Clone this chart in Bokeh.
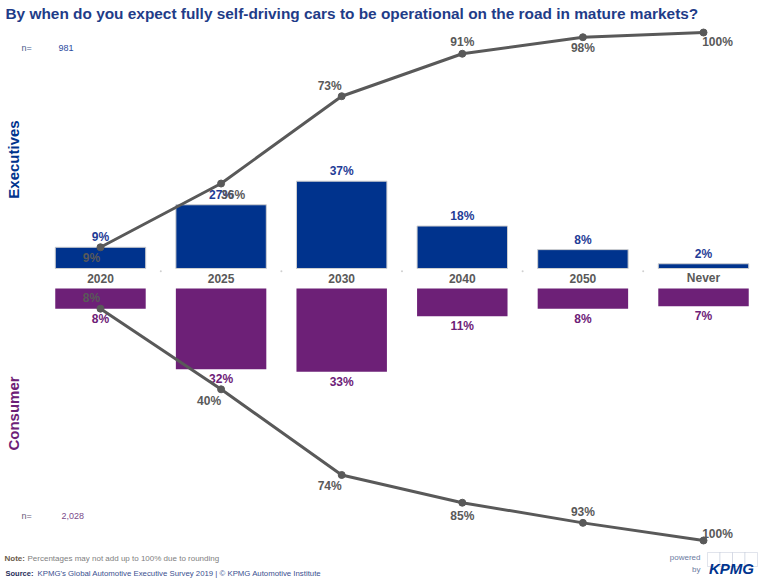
import math
from bokeh.plotting import figure
from bokeh.models import ColumnDataSource, Range1d, Label, BoxAnnotation
from bokeh.core.properties import value
from bokeh.embed import file_html
from bokeh.resources import INLINE

# ---- data ----
categories = ["2020", "2025", "2030", "2040", "2050", "Never"]
exec_share = [9, 27, 37, 18, 8, 2]
exec_cum = [9, 36, 73, 91, 98, 100]
cons_share = [8, 32, 33, 11, 8, 7]
cons_cum = [8, 40, 74, 85, 93, 100]
n_exec = "981"
n_cons = "2,028"

# label offsets for cumulative labels (screen px)
exec_cum_dx = [-9, 12, -12, 0, 0, 14]
exec_cum_dy = [11, 11, -10, -12, 11, 9]
cons_cum_dx = [-9, -12, -12, 0, 0, 14]
cons_cum_dy = [-11, 12, 11, 13, -11, -7]

FONT = "Liberation Sans"
BLUE = "#00338D"
PURPLE = "#6D2077"
GREY = "#595959"

W, H = 765, 586
xs = list(range(len(categories)))

p = figure(width=W, height=H, output_backend="svg", toolbar_location=None,
           x_axis_type=None, y_axis_type=None, min_border=0,
           x_range=Range1d(-0.829, 5.514), y_range=Range1d(-134.75, 113.56))
p.outline_line_color = None
p.background_fill_color = "white"
p.extra_y_ranges = {"cons": Range1d(118.25, -114.29)}

src = ColumnDataSource(dict(
    x=xs, cat=categories,
    e=exec_share, ec=exec_cum, c=cons_share, cc=cons_cum,
    e_lbl=[f"{v}%" for v in exec_share], c_lbl=[f"{v}%" for v in cons_share],
    ec_lbl=[f"{v}%" for v in exec_cum], cc_lbl=[f"{v}%" for v in cons_cum],
    ecdx=exec_cum_dx, ecdy=exec_cum_dy, ccdx=cons_cum_dx, ccdy=cons_cum_dy,
    zero=[0] * len(xs),
))

# bars
p.vbar(x="x", top="e", bottom=0, width=0.75, source=src,
       fill_color=BLUE, line_color="#d0d0d0", line_width=1)
p.vbar(x="x", top="c", bottom=0, width=0.75, source=src, y_range_name="cons",
       fill_color=PURPLE, line_color=None)

# small separators between categories
sep = ColumnDataSource(dict(x=[i + 0.5 for i in xs[:-1]]))
p.scatter(x="x", y=-1.2, source=sep, size=2, color="#d0d0d0", line_color=None)

# category labels
p.text(x="x", y="zero", text="cat", source=src, y_offset=10,
       text_align="center", text_baseline="middle", text_color=GREY,
       text_font=value(FONT), text_font_size="12px", text_font_style="bold")

# bar value labels
p.text(x="x", y="e", text="e_lbl", source=src, y_offset=-10,
       text_align="center", text_baseline="middle", text_color="#1F3C96",
       text_font=value(FONT), text_font_size="12px", text_font_style="bold")
p.text(x="x", y="c", text="c_lbl", source=src, y_offset=10, y_range_name="cons",
       text_align="center", text_baseline="middle", text_color=PURPLE,
       text_font=value(FONT), text_font_size="12px", text_font_style="bold")

# cumulative lines
p.line(x="x", y="ec", source=src, line_color=GREY, line_width=3)
p.scatter(x="x", y="ec", source=src, size=7, color=GREY)
p.line(x="x", y="cc", source=src, line_color=GREY, line_width=3, y_range_name="cons")
p.scatter(x="x", y="cc", source=src, size=7, color=GREY, y_range_name="cons")

p.text(x="x", y="ec", text="ec_lbl", source=src, x_offset="ecdx", y_offset="ecdy",
       text_align="center", text_baseline="middle", text_color=GREY,
       text_font=value(FONT), text_font_size="12px", text_font_style="bold")
p.text(x="x", y="cc", text="cc_lbl", source=src, x_offset="ccdx", y_offset="ccdy",
       y_range_name="cons",
       text_align="center", text_baseline="middle", text_color=GREY,
       text_font=value(FONT), text_font_size="12px", text_font_style="bold")


def sx(px):
    return px


def sy(py):
    return H - py


def lab(x, y, text, size, color, style="normal", align="left", angle=0.0, font=FONT):
    p.add_layout(Label(x=sx(x), y=sy(y), x_units="screen", y_units="screen",
                       text=text, text_font=font, text_font_size=size,
                       text_color=color, text_font_style=style,
                       text_align=align, text_baseline="middle", angle=angle))


lab(5, 13, "By when do you expect fully self-driving cars to be operational on the road in mature markets?",
    "15.4px", "#1F3C88", "bold")
lab(13, 159, "Executives", "15px", BLUE, "bold", "center", math.pi / 2)
lab(13, 413, "Consumer", "15px", PURPLE, "bold", "center", math.pi / 2)

lab(21, 47, "n=", "9px", "#4A5A8A")
lab(58, 47, n_exec, "9px", "#2B4BA0")
lab(21, 515, "n=", "9px", "#6A5A7A")
lab(61, 515, n_cons, "9px", "#7A4A8A")

lab(4, 558, "Note:", "8px", "#6B5B4B", "bold")
lab(27, 558, "Percentages may not add up to 100% due to rounding", "8px", "#808080")
lab(5, 573, "Source:", "7.5px", "#1F2D5A", "bold")
lab(37, 573, "KPMG's Global Automotive Executive Survey 2019 | \u00a9 KPMG Automotive Institute", "7.8px", "#3A4F8F")

# KPMG logo
lab(700, 557, "powered", "8px", "#6A7AA0", align="right")
lab(700, 569, "by", "8px", "#6A7AA0", align="right")
for i in range(4):
    left = 707 + i * 12.5
    p.add_layout(BoxAnnotation(left=sx(left), right=sx(left + 12.5), top=sy(552), bottom=sy(566),
                               left_units="screen", right_units="screen",
                               top_units="screen", bottom_units="screen",
                               fill_color="white", fill_alpha=1.0,
                               line_color="#9AA4C0", line_width=1))
lab(731, 568, "KPMG", "15px", BLUE, "bold italic", "center")

open("out.html", "w").write(file_html(p, INLINE))
